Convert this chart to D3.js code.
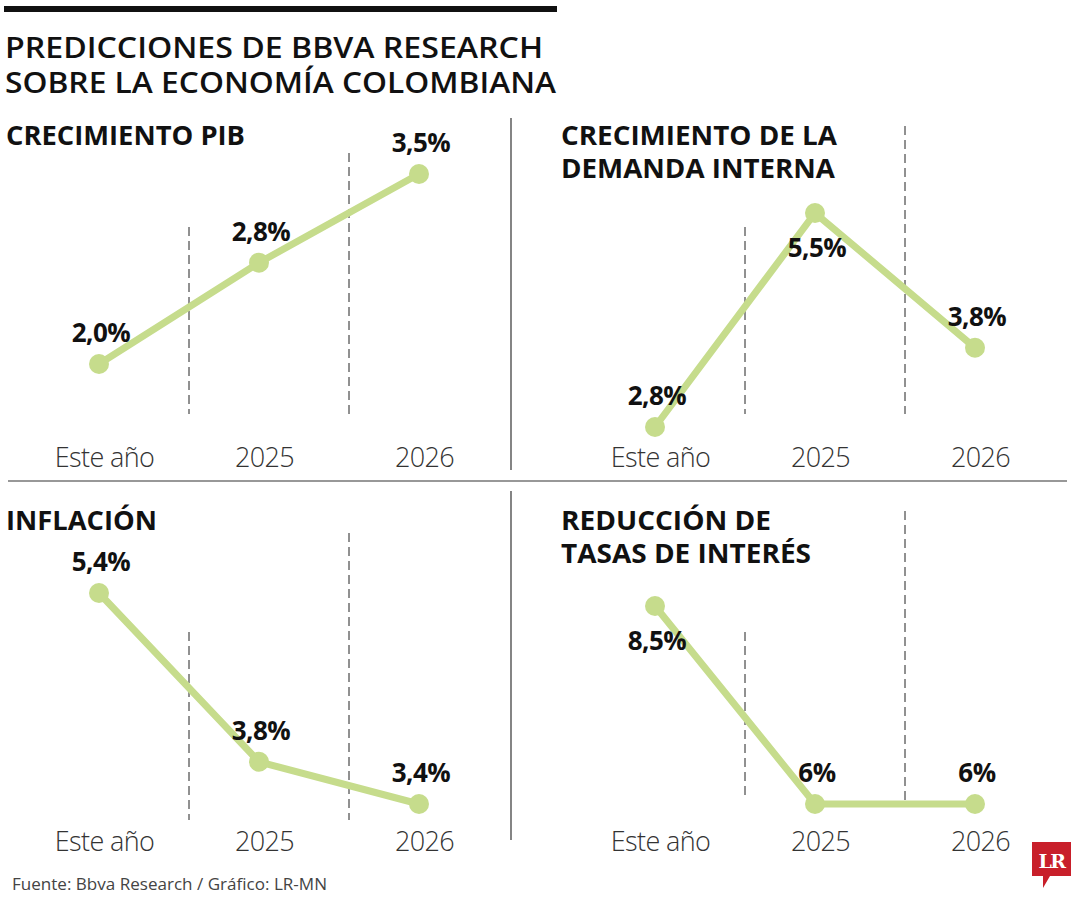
<!DOCTYPE html>
<html>
<head>
<meta charset="utf-8">
<script src="https://cdn.jsdelivr.net/npm/d3@7"></script>
<style>
  body { margin: 0; background: #fff; }
  text { font-family: "Open Sans", sans-serif; }
</style>
</head>
<body>
<div id="chart"></div>
<script>
const categories = ['Este año', '2025', '2026'];

const pib = [2.0, 2.8, 3.5];
const pibLabels = ['2,0%', '2,8%', '3,5%'];

const demanda = [2.8, 5.5, 3.8];
const demandaLabels = ['2,8%', '5,5%', '3,8%'];

const inflacion = [5.4, 3.8, 3.4];
const inflacionLabels = ['5,4%', '3,8%', '3,4%'];

const tasas = [8.5, 6, 6];
const tasasLabels = ['8,5%', '6%', '6%'];

const width = 1080;
const height = 900;
const green = '#c6dc8c';

const svg = d3.select('#chart').append('svg')
  .attr('width', width)
  .attr('height', height);

// top rule + title
svg.append('rect').attr('x', 4).attr('y', 6).attr('width', 553).attr('height', 6).attr('fill', '#111');

function heading(x, y, txt, len, size) {
  svg.append('text')
    .attr('x', x).attr('y', y)
    .attr('font-size', size)
    .attr('font-weight', 600)
    .attr('fill', '#111')
    .attr('textLength', len)
    .attr('lengthAdjust', 'spacingAndGlyphs')
    .text(txt);
}

heading(5, 58, 'PREDICCIONES DE BBVA RESEARCH', 538, 28);
heading(5, 93, 'SOBRE LA ECONOMÍA COLOMBIANA', 551, 28);

// separators
svg.append('line').attr('x1', 511).attr('x2', 511).attr('y1', 118).attr('y2', 470).attr('stroke', '#333').attr('stroke-width', 1.2);
svg.append('line').attr('x1', 511).attr('x2', 511).attr('y1', 491).attr('y2', 840).attr('stroke', '#333').attr('stroke-width', 1.2);
svg.append('line').attr('x1', 8).attr('x2', 1067).attr('y1', 481).attr('y2', 481).attr('stroke', '#333').attr('stroke-width', 1.2);

const panels = [
  { values: pib, labels: pibLabels, title: ['CRECIMIENTO PIB'], titleLen: [239],
    x0: 99, x1: 419, y: [364, 174], place: ['above', 'above', 'above'],
    dash: [227, 153], dashEnd: 414, axisY: 467, titleX: 6, titleY: 145 },
  { values: demanda, labels: demandaLabels, title: ['CRECIMIENTO DE LA', 'DEMANDA INTERNA'], titleLen: [276, 274],
    x0: 655, x1: 975, y: [427, 213], place: ['above', 'below', 'above'],
    dash: [227, 126], dashEnd: 414, axisY: 467, titleX: 561, titleY: 145 },
  { values: inflacion, labels: inflacionLabels, title: ['INFLACIÓN'], titleLen: [151],
    x0: 99, x1: 419, y: [804, 593], place: ['above', 'above', 'above'],
    dash: [632, 533], dashEnd: 820, axisY: 851, titleX: 6, titleY: 530 },
  { values: tasas, labels: tasasLabels, title: ['REDUCCIÓN DE', 'TASAS DE INTERÉS'], titleLen: [210, 250],
    x0: 655, x1: 975, y: [804, 606], place: ['below', 'above', 'above'],
    dash: [632, 511], dashEnd: 800, axisY: 851, titleX: 561, titleY: 530 }
];

panels.forEach(p => {
  const g = svg.append('g');

  p.title.forEach((t, i) => {
    g.append('text')
      .attr('x', p.titleX).attr('y', p.titleY + i * 33)
      .attr('font-size', 26)
      .attr('font-weight', 700)
      .attr('fill', '#111')
      .attr('textLength', p.titleLen[i])
      .attr('lengthAdjust', 'spacingAndGlyphs')
      .text(t);
  });

  const x = d3.scalePoint().domain(categories).range([p.x0, p.x1]);
  const y = d3.scaleLinear().domain(d3.extent(p.values)).range(p.y);
  const step = x.step();

  // dashed dividers between years
  categories.slice(1).forEach((c, i) => {
    g.append('line')
      .attr('x1', x(c) - step / 2 + 10).attr('x2', x(c) - step / 2 + 10)
      .attr('y1', p.dash[i]).attr('y2', p.dashEnd)
      .attr('stroke', '#222').attr('stroke-width', 1)
      .attr('stroke-dasharray', '9,5');
  });

  const pts = categories.map((c, i) => ({ c, v: p.values[i], label: p.labels[i], place: p.place[i] }));

  g.append('path')
    .datum(pts)
    .attr('fill', 'none')
    .attr('stroke', green)
    .attr('stroke-width', 7)
    .attr('d', d3.line().x(d => x(d.c)).y(d => y(d.v)));

  g.selectAll('circle')
    .data(pts)
    .join('circle')
    .attr('cx', d => x(d.c))
    .attr('cy', d => y(d.v))
    .attr('r', 10)
    .attr('fill', green);

  g.selectAll('text.val')
    .data(pts)
    .join('text')
    .attr('class', 'val')
    .attr('x', d => x(d.c) + 2)
    .attr('y', d => d.place === 'above' ? y(d.v) - 22 : y(d.v) + 44)
    .attr('text-anchor', 'middle')
    .attr('font-size', 26)
    .attr('font-weight', 700)
    .attr('fill', '#111')
    .attr('letter-spacing', -0.5)
    .text(d => d.label);

  // x axis labels
  const axis = d3.axisBottom(x).tickSize(0).tickPadding(0);
  const ax = g.append('g').attr('transform', `translate(5,${p.axisY})`).call(axis);
  ax.select('.domain').remove();
  ax.selectAll('text')
    .attr('dy', 0)
    .style('font-family', '"Open Sans", sans-serif')
    .attr('font-size', 27)
    .attr('font-weight', 300)
    .attr('fill', '#333')
    .attr('letter-spacing', -0.6);
});

// footer
svg.append('text')
  .attr('x', 12).attr('y', 890)
  .attr('font-size', 17)
  .attr('font-weight', 400)
  .attr('fill', '#444')
  .attr('textLength', 315)
  .attr('lengthAdjust', 'spacingAndGlyphs')
  .text('Fuente: Bbva Research / Gráfico: LR-MN');

// logo
const logo = svg.append('g');
logo.append('path')
  .attr('d', 'M1032,842 H1071 V876 H1050 L1043,888 V876 H1032 Z')
  .attr('fill', '#c81f2a');
logo.append('text')
  .attr('x', 1051.5).attr('y', 868)
  .attr('text-anchor', 'middle')
  .style('font-family', '"DejaVu Serif", "Liberation Serif", serif')
  .attr('font-weight', 700)
  .attr('font-size', 19)
  .attr('fill', '#fff')
  .attr('letter-spacing', -1.5)
  .text('LR');
</script>
</body>
</html>
